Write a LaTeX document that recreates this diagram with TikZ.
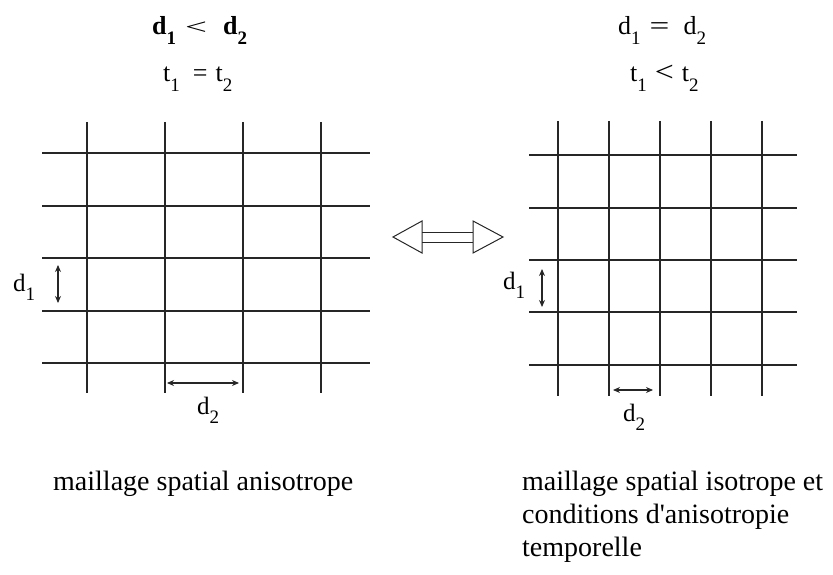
\documentclass[tikz,border=0pt]{standalone}
\usepackage{fontspec}
\setmainfont{Liberation Serif}
\usetikzlibrary{arrows.meta}
\tikzset{
    gridline/.style={draw=black!85, line width=1.7pt},
    dimarrow/.style={{Stealth[length=7pt,width=6pt]}-{Stealth[length=7pt,width=6pt]}, draw=black!85, line width=1.1pt},
    biglabel/.style={font=\fontsize{25}{25}\selectfont, inner sep=0pt},
    titlabel/.style={font=\fontsize{26}{26}\selectfont, inner sep=0pt},
    captext/.style={font=\fontsize{28}{33}\selectfont, inner sep=0pt, align=left},
    bigarrow/.style={draw=black!85, line width=1pt},
}
\newcommand\ind[1]{\raisebox{-0.38em}{\fontsize{19}{19}\selectfont #1}}

\begin{document}
\begin{tikzpicture}[x=1pt, y=-1pt]
\useasboundingbox (0,0) rectangle (833,575);
% titles
\node[titlabel, anchor=base west] (titdl) at (152,35) {\bfseries d\ind{1}\hspace{9pt}\mdseries\scalebox{1.5}[0.85]{<}\hspace{16pt}\bfseries d\ind{2}};
\node[titlabel, anchor=base west] (tittl) at (163,82) {t\ind{1}\hspace{13pt}=\hspace{8pt}t\ind{2}};
\node[titlabel, anchor=base west] (titdr) at (618,35) {d\ind{1}\hspace{9pt}\scalebox{1.35}[1]{=}\hspace{14pt}d\ind{2}};
\node[titlabel, anchor=base west] (tittr) at (630,82) {t\ind{1}\hspace{8pt}\scalebox{1.3}[1.1]{<}\hspace{8pt}t\ind{2}};
% left grid
\draw[gridline] (42,153) -- (370,153);
\draw[gridline] (42,206) -- (370,206);
\draw[gridline] (42,258) -- (370,258);
\draw[gridline] (42,311) -- (370,311);
\draw[gridline] (42,363) -- (370,363);
\draw[gridline] (87,122) -- (87,393);
\draw[gridline] (165,122) -- (165,393);
\draw[gridline] (243,122) -- (243,393);
\draw[gridline] (321,122) -- (321,393);
% right grid
\draw[gridline] (529,155) -- (797,155);
\draw[gridline] (529,208) -- (797,208);
\draw[gridline] (529,260) -- (797,260);
\draw[gridline] (529,312) -- (797,312);
\draw[gridline] (529,365) -- (797,365);
\draw[gridline] (558,121) -- (558,396);
\draw[gridline] (609,121) -- (609,396);
\draw[gridline] (660,121) -- (660,396);
\draw[gridline] (711,121) -- (711,396);
\draw[gridline] (762,121) -- (762,396);
% dimensions
\coordinate (ld1a) at (58,265);
\coordinate (ld1b) at (58,303);
\coordinate (ld2a) at (167,383);
\coordinate (ld2b) at (239,383);
\coordinate (rd1a) at (542,269);
\coordinate (rd1b) at (542,307);
\coordinate (rd2a) at (613,390);
\coordinate (rd2b) at (653,390);
\draw[dimarrow] (ld1a) -- (ld1b);
\draw[dimarrow] (ld2a) -- (ld2b);
\draw[dimarrow] (rd1a) -- (rd1b);
\draw[dimarrow] (rd2a) -- (rd2b);
\node[biglabel, anchor=base west] (labld1) at (13,291) {d\ind{1}};
\node[biglabel, anchor=base west] (labld2) at (197,414) {d\ind{2}};
\node[biglabel, anchor=base west] (labrd1) at (503,289) {d\ind{1}};
\node[biglabel, anchor=base west] (labrd2) at (623,421) {d\ind{2}};
% double arrow
\draw[bigarrow] (422,221) -- (393,237) -- (422,253) -- cycle;
\draw[bigarrow] (473,221) -- (503,237) -- (473,253) -- cycle;
\draw[bigarrow] (422,232) -- (473,232);
\draw[bigarrow] (422,242) -- (473,242);
% captions
\node[captext, anchor=base west] (capl) at (53,490) {maillage spatial anisotrope};
\node[captext, anchor=north west] (capr) at (522,470.5) {maillage spatial isotrope et\\conditions d\textquotesingle anisotropie\\temporelle};
\end{tikzpicture}
\end{document}
